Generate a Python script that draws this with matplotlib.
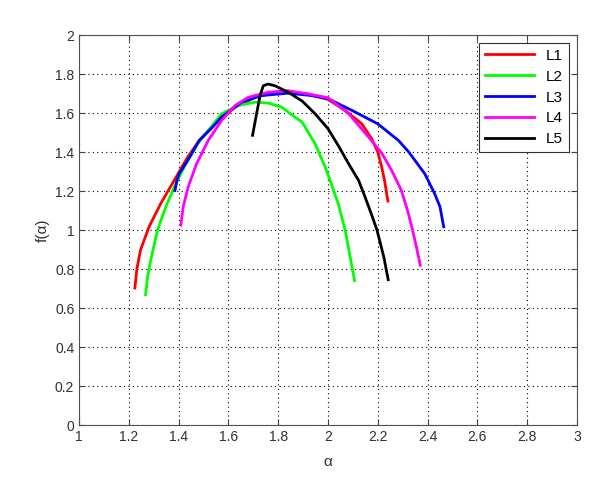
import numpy as np
import matplotlib.pyplot as plt

plt.rcParams['font.family'] = ['Liberation Sans', 'DejaVu Sans']

# multifractal spectra
l1_a = [1.224, 1.232, 1.247, 1.281, 1.328, 1.382, 1.436, 1.483, 1.55, 1.627, 1.707, 1.813, 1.92, 2.0,
        2.069, 2.136, 2.176, 2.2, 2.216, 2.228, 2.236, 2.241]
l1_f = [0.703, 0.80, 0.899, 1.017, 1.136, 1.255, 1.374, 1.46, 1.55, 1.63, 1.681, 1.712, 1.698, 1.67,
        1.614, 1.545, 1.468, 1.4, 1.323, 1.25, 1.186, 1.149]

l2_a = [1.267, 1.275, 1.288, 1.315, 1.348, 1.382, 1.422, 1.476, 1.573, 1.64, 1.707, 1.76, 1.813, 1.867,
        1.896, 1.948, 1.989, 2.023, 2.042, 2.069, 2.089, 2.107]
l2_f = [0.669, 0.76, 0.848, 1.0, 1.118, 1.22, 1.323, 1.442, 1.597, 1.639, 1.656, 1.651, 1.631, 1.58,
        1.554, 1.443, 1.323, 1.203, 1.132, 1.0, 0.864, 0.741]

l3_a = [1.385, 1.393, 1.402, 1.436, 1.483, 1.53, 1.573, 1.653, 1.733, 1.84, 1.933, 2.0, 2.096, 2.2,
        2.283, 2.325, 2.389, 2.429, 2.45, 2.465]
l3_f = [1.203, 1.255, 1.289, 1.357, 1.46, 1.52, 1.58, 1.656, 1.69, 1.702, 1.69, 1.674, 1.614, 1.545,
        1.46, 1.4, 1.289, 1.186, 1.12, 1.017]

l4_a = [1.409, 1.418, 1.438, 1.472, 1.519, 1.573, 1.627, 1.68, 1.76, 1.84, 1.92, 2.0, 2.083, 2.163,
        2.216, 2.256, 2.295, 2.32, 2.34, 2.356, 2.371]
l4_f = [1.026, 1.118, 1.22, 1.34, 1.46, 1.563, 1.639, 1.681, 1.707, 1.715, 1.698, 1.679, 1.597, 1.477,
        1.395, 1.306, 1.203, 1.1, 1.0, 0.91, 0.82]

l5_a = [1.697, 1.713, 1.727, 1.74, 1.76, 1.787, 1.84, 1.896, 1.948, 2.0, 2.043, 2.083, 2.123, 2.149,
        2.175, 2.197, 2.224, 2.242]
l5_f = [1.486, 1.596, 1.689, 1.74, 1.749, 1.74, 1.707, 1.662, 1.597, 1.52, 1.43, 1.34, 1.255, 1.17,
        1.08, 1.0, 0.864, 0.746]

series = [(l1_a, l1_f, 'L1', (1, 0, 0)),
          (l2_a, l2_f, 'L2', (0, 1, 0)),
          (l3_a, l3_f, 'L3', (0, 0, 1)),
          (l4_a, l4_f, 'L4', (1, 0, 1)),
          (l5_a, l5_f, 'L5', (0, 0, 0))]

fig = plt.figure(figsize=(6.04, 4.87), dpi=100)
ax = fig.add_axes([0.131, 0.127, 0.824, 0.801])

for a, f, name, c in series:
    ax.plot(a, f, color=c, lw=2, label=name, solid_joinstyle='round')

ax.set_xlim(1, 3)
ax.set_ylim(0, 2)
ax.set_xticks(np.arange(1, 3.01, 0.2))
ax.set_xticklabels(['1', '1.2', '1.4', '1.6', '1.8', '2', '2.2', '2.4', '2.6', '2.8', '3'])
ax.set_yticks(np.arange(0, 2.01, 0.2))
ax.set_yticklabels(['0', '0.2', '0.4', '0.6', '0.8', '1', '1.2', '1.4', '1.6', '1.8', '2'])
ax.grid(True, color='k', linestyle=(0, (1, 3)), linewidth=0.8)
ax.tick_params(direction='in', top=True, right=True, length=4, labelsize=10,
               colors='#404040', labelcolor='#303030')
for s in ax.spines.values():
    s.set_color('#505050')
ax.set_xlabel('α', fontsize=11, color='#303030', labelpad=8)
ax.set_ylabel('f(α)', fontsize=11, color='#303030')

leg = ax.legend(loc='upper right', fontsize=11, handlelength=3.2, fancybox=False,
                framealpha=1, borderaxespad=0.5, labelspacing=0.45)
leg.get_frame().set_edgecolor('#303030')
leg.get_frame().set_linewidth(0.8)

fig.savefig('out.png', dpi=100)
